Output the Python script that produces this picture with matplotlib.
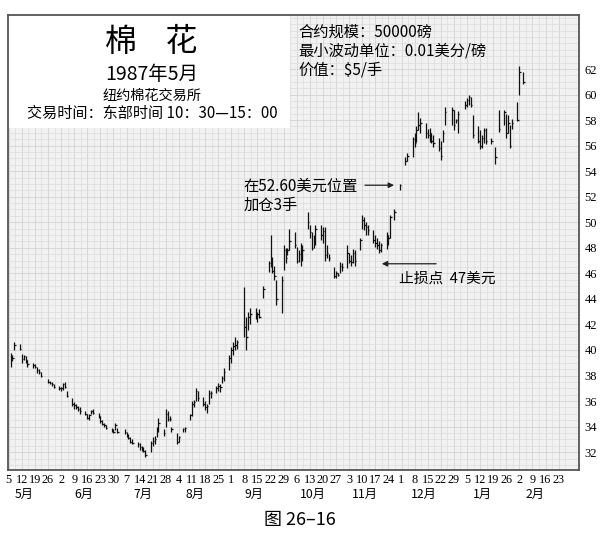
import numpy as np
import pandas as pd
import matplotlib
matplotlib.use('Agg')
import matplotlib.pyplot as plt
import matplotlib.dates as mdates
import matplotlib.transforms as mtransforms
from matplotlib.patches import Rectangle
from matplotlib.ticker import FixedLocator, MultipleLocator

plt.rcParams['font.family'] = ['Noto Sans CJK SC', 'DejaVu Sans']

N = np.nan
# daily bars, Mon..Fri, one row per week (1987-05-04 .. 1988-02-05)
highs = [
    N, N, 39.8, 39.6, 40.6,
    40.5, 39.7, 39.6, 39.5, 39.2,
    39.0, 38.9, 38.7, 38.5, 38.3,
    N, 37.7, 37.6, 37.5, 37.3,
    37.2, 37.1, 37.4, 37.5, 36.8,
    36.2, 35.9, 35.8, 35.6, 35.5,
    35.2, 35.0, 35.0, 35.3, 35.4,
    35.1, 34.8, 34.5, 34.3, 34.1,
    33.9, 33.8, 34.3, 33.9, N,
    33.8, 33.6, 33.4, 33.2, 33.0,
    32.8, 32.7, 32.5, 32.4, 32.2,
    32.9, 33.2, 33.3, 34.0, 34.7,
    33.8, 35.4, 35.2, 34.8, 34.0,
    33.5, 33.3, N, 33.9, 34.0,
    35.0, 36.0, 36.1, 37.0, 36.8,
    36.3, 36.0, 35.8, 36.9, 36.8,
    37.2, 37.4, 37.3, 38.0, 38.6,
    39.6, 40.2, 40.6, 41.0, 40.8,
    N, 44.9, 42.6, 43.0, 43.3,
    43.3, 43.0, 43.2, N, 45.0,
    47.0, 49.0, 47.3, 46.6, 45.5,
    45.8, 48.2, 48.0, 48.0, 49.5,
    49.2, 48.1, 47.8, 48.4, 48.2,
    50.8, 49.8, 49.2, 49.0, 49.8,
    49.8, 49.6, 49.6, 48.2, 47.5,
    46.5, 46.2, 46.0, 46.9, 46.8,
    48.2, 47.6, 47.4, 47.9, 47.8,
    48.8, 50.6, 50.4, 50.0, 49.8,
    49.4, 49.0, 48.8, 48.5, 48.4,
    49.2, 49.0, 50.6, N, 51.0,
    53.0, N, N, 55.1, 55.4,
    56.7, 57.0, 57.5, 58.6, 58.2,
    57.8, 57.3, 57.4, 57.0, 56.8,
    56.6, 56.4, 57.2, 59.0, N,
    59.0, 58.8, 58.1, 58.7, N,
    59.5, 59.7, 60.0, 59.8, 58.4,
    57.5, 57.2, 56.8, 57.4, 57.4,
    56.6, N, 55.9, N, 58.8,
    58.8, 58.5, 58.4, 57.6, 58.1,
    59.4, 62.2, N, 61.8, N,
]
lows = [
    N, N, 38.7, 39.1, 40.0,
    40.0, 39.0, 39.2, 39.0, 38.7,
    38.6, 38.6, 38.2, 38.1, 37.9,
    N, 37.4, 37.3, 37.2, 37.0,
    36.9, 36.8, 36.9, 37.0, 36.3,
    35.6, 35.4, 35.4, 35.2, 35.0,
    34.9, 34.6, 34.5, 35.0, 35.0,
    34.7, 34.3, 34.1, 34.0, 33.8,
    33.6, 33.5, 33.7, 33.5, N,
    33.4, 33.2, 33.0, 32.7, 32.6,
    32.4, 32.2, 32.1, 32.0, 31.6,
    32.0, 32.5, 32.6, 33.2, 33.6,
    33.3, 34.0, 34.4, 34.4, 33.6,
    32.6, 32.8, N, 33.6, 33.6,
    34.5, 34.8, 35.5, 36.0, 36.0,
    35.6, 35.3, 35.1, 35.8, 36.2,
    36.6, 36.8, 36.7, 37.4, 37.6,
    38.4, 39.0, 39.6, 40.0, 40.1,
    N, 41.0, 40.0, 41.6, 42.0,
    42.4, 42.2, 42.5, N, 44.1,
    46.1, 46.5, 46.0, 45.5, 43.5,
    42.9, 46.3, 46.8, 47.4, 47.8,
    48.0, 46.8, 46.9, 46.6, 47.0,
    49.5, 48.8, 47.8, 48.0, 48.2,
    48.6, 48.4, 47.0, 47.2, 47.0,
    45.6, 45.6, 45.8, 46.0, 46.2,
    46.4, 46.8, 46.6, 46.8, 46.6,
    47.8, 49.5, 49.4, 49.0, 49.0,
    48.4, 48.1, 47.9, 47.6, 47.7,
    47.9, 48.2, 48.8, N, 50.2,
    52.5, N, N, 54.5, 54.8,
    55.1, 55.9, 56.3, 57.2, 57.0,
    56.6, 56.6, 56.3, 56.2, 55.9,
    55.6, 54.9, 56.3, 57.6, N,
    57.6, 57.2, 57.8, 57.0, N,
    58.9, 59.0, 59.2, 59.0, 56.6,
    56.2, 55.7, 55.8, 56.2, 56.1,
    56.1, N, 54.6, N, 57.1,
    57.6, 56.6, 57.0, 55.8, 57.3,
    57.9, 60.0, N, 60.8, N,
]
closes = [
    N, N, 39.5, 39.4, 40.4,
    40.1, 39.3, 39.5, 39.2, 38.9,
    38.8, 38.7, 38.4, 38.3, 38.0,
    N, 37.5, 37.4, 37.3, 37.1,
    37.0, 37.0, 37.3, 37.1, 36.4,
    35.8, 35.7, 35.5, 35.4, 35.2,
    35.0, 34.7, 34.9, 35.2, 35.1,
    34.8, 34.4, 34.2, 34.1, 33.9,
    33.7, 33.6, 34.1, 33.6, N,
    33.6, 33.3, 33.1, 32.8, 32.7,
    32.6, 32.4, 32.3, 32.1, 31.8,
    32.7, 32.9, 33.0, 33.8, 34.3,
    33.5, 35.0, 34.6, 34.6, 33.8,
    32.8, 33.2, N, 33.8, 33.9,
    34.9, 35.8, 35.9, 36.8, 36.2,
    35.8, 35.5, 35.6, 36.6, 36.6,
    37.0, 37.2, 37.1, 37.8, 38.3,
    39.4, 40.0, 40.3, 40.4, 40.6,
    N, 41.8, 41.0, 42.6, 42.8,
    42.6, 42.8, 42.6, N, 44.8,
    46.8, 47.0, 46.2, 45.8, 44.0,
    45.5, 47.8, 47.2, 47.8, 48.5,
    48.2, 47.0, 47.5, 48.0, 47.8,
    50.0, 49.2, 48.0, 48.8, 49.5,
    49.0, 49.3, 47.4, 47.6, 47.2,
    45.8, 46.0, 45.9, 46.6, 46.5,
    47.6, 47.0, 46.9, 47.6, 47.0,
    48.6, 50.2, 49.8, 49.6, 49.4,
    48.6, 48.4, 48.2, 47.8, 48.2,
    49.0, 48.8, 50.4, N, 50.8,
    52.9, N, N, 54.8, 55.2,
    56.5, 56.2, 57.2, 57.6, 57.8,
    57.0, 56.8, 57.0, 56.4, 56.2,
    55.8, 55.2, 57.0, 58.6, N,
    58.8, 57.6, 58.0, 58.5, N,
    59.2, 59.6, 59.8, 59.2, 56.8,
    56.4, 56.0, 56.6, 57.2, 56.4,
    56.4, N, 55.1, N, 57.3,
    58.6, 57.0, 57.8, 56.0, 57.8,
    58.0, 61.8, N, 61.0, N,
]
first_day, last_day = '1987-05-04', '1988-02-05'
tick_start, tick_end = '1987-05-05', '1988-02-23'
month_names = ['5月', '6月', '7月', '8月', '9月', '10月', '11月', '12月', '1月', '2月']
y_ticks = list(range(32, 63, 2))

dates = pd.bdate_range(first_day, last_day)
x = mdates.date2num(dates.to_pydatetime())
hi = np.array(highs, float)
lo = np.array(lows, float)
cl = np.array(closes, float)
ok = ~np.isnan(hi)

fig = plt.figure(figsize=(6.03, 5.40), dpi=100)
fig.patch.set_facecolor('white')
ax = fig.add_axes([8 / 603, 70 / 540, 571 / 603, 455 / 540])
ax.set_facecolor('#f1f1f1')
ax.set_axisbelow(True)

tick_dates = pd.date_range(tick_start, tick_end, freq='7D')
tx = mdates.date2num(tick_dates.to_pydatetime())
x0 = tx[0] - 0.4
ax.set_xlim(x0, x0 + 305.3)
ax.set_ylim(30.6, 66.23)

# graph-paper grid
ax.xaxis.set_major_locator(FixedLocator(tx))
ax.xaxis.set_minor_locator(FixedLocator(np.arange(tx[0] + 3.5, x0 + 306, 7.0)))
ax.yaxis.set_major_locator(FixedLocator(y_ticks))
ax.yaxis.set_minor_locator(MultipleLocator(0.5))
ax.grid(which='major', color='#d2d2d2', lw=0.6)
ax.grid(which='minor', color='#dcdcdc', lw=0.5)

ax.set_xticklabels([str(d.day) for d in tick_dates], fontfamily='Liberation Serif', fontsize=8.8)
ax.yaxis.tick_right()
ax.set_yticklabels([str(v) for v in y_ticks], fontfamily='Liberation Serif', fontsize=9)
ax.tick_params(which='both', length=0)
ax.tick_params(axis='x', pad=3)
ax.tick_params(axis='y', pad=4)
for s in ax.spines.values():
    s.set_color('#555555')
    s.set_linewidth(1.3)

# white title box
ax.add_patch(Rectangle((0, 0.752), 0.494, 0.248, transform=ax.transAxes,
                       facecolor='white', edgecolor='none', zorder=2))

# price bars
ax.vlines(x[ok], lo[ok], hi[ok], color='#111111', lw=0.9, zorder=3)
ax.hlines(cl[ok], x[ok], x[ok] + 0.8, color='#111111', lw=0.9, zorder=3)

# month labels
trans = mtransforms.blended_transform_factory(ax.transData, ax.transAxes)
months = pd.Series(tx, index=tick_dates).groupby([tick_dates.year, tick_dates.month]).mean()
for name, mx in zip(month_names, months.values):
    ax.text(mx - 2.0, -0.053, name, transform=trans, ha='center', va='center', fontsize=8.8)

def fx(px):
    return px / 603
def fy(py):
    return 1 - py / 540

fig.text(fx(151), fy(42), '棉    花', ha='center', va='center', fontsize=23)
fig.text(fx(152), fy(75), '1987年5月', ha='center', va='center', fontsize=14)
fig.text(fx(152), fy(96), '纽约棉花交易所', ha='center', va='center', fontsize=10.2)
fig.text(fx(152), fy(113), '交易时间：东部时间 10：30—15：00', ha='center', va='center', fontsize=10.9)

fig.text(fx(298), fy(32), '合约规模：50000磅', ha='left', va='center', fontsize=11)
fig.text(fx(298), fy(51), '最小波动单位：0.01美分/磅', ha='left', va='center', fontsize=11)
fig.text(fx(298), fy(70), '价值：$5/手', ha='left', va='center', fontsize=11)

# annotations
add_day = mdates.date2num(pd.Timestamp('1987-11-30').to_pydatetime())
ax.annotate('', xy=(add_day - 1.5, 52.9), xytext=(add_day - 20, 52.9),
            arrowprops=dict(arrowstyle='-|>', color='#222222', lw=0.9, mutation_scale=8), zorder=4)
ax.text(add_day - 83.5, 52.78, '在52.60美元位置', ha='left', va='center', fontsize=11, zorder=4)
ax.text(add_day - 83.5, 51.35, '加仓3手', ha='left', va='center', fontsize=11, zorder=4)

stop_day = mdates.date2num(pd.Timestamp('1987-11-19').to_pydatetime())
ax.annotate('', xy=(stop_day, 46.75), xytext=(stop_day + 32, 46.75),
            arrowprops=dict(arrowstyle='-|>', color='#222222', lw=0.9, mutation_scale=8), zorder=4)
ax.text(stop_day + 10.5, 45.55, '止损点  47美元', ha='left', va='center', fontsize=10.6, zorder=4)

fig.text(fx(300), fy(520), '图 26–16', ha='center', va='center', fontsize=13)

fig.savefig('out.png', dpi=100, facecolor='white')
